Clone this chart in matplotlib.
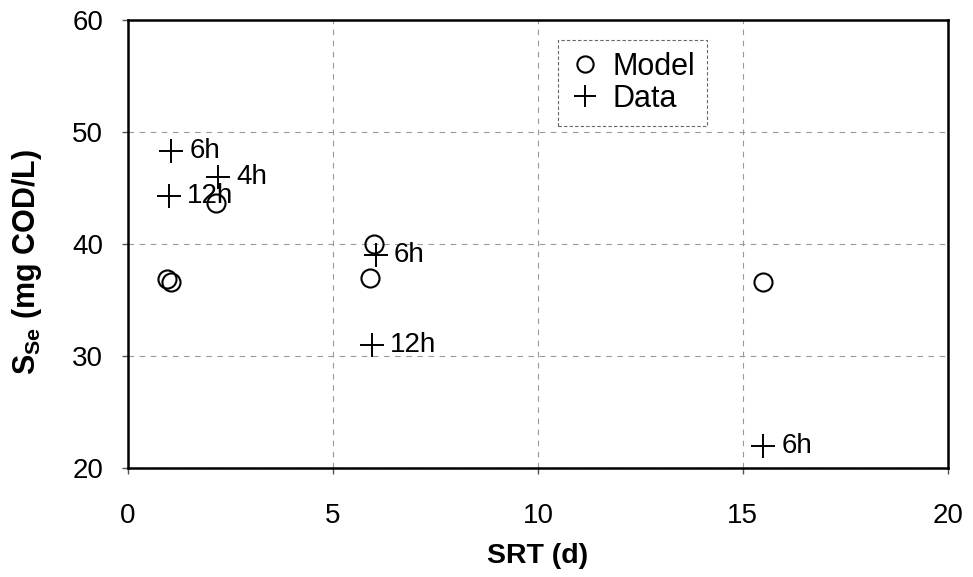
import matplotlib
matplotlib.use("Agg")
import matplotlib.pyplot as plt

plt.rcParams['font.family'] = ['Liberation Sans', 'DejaVu Sans']
plt.rcParams['mathtext.fontset'] = 'custom'
plt.rcParams['mathtext.rm'] = 'Liberation Sans:bold'
plt.rcParams['mathtext.default'] = 'rm'

# model predictions
model_srt = [0.95, 1.05, 2.15, 6.0, 5.9, 15.5]
model_sse = [36.9, 36.6, 43.7, 40.0, 37.0, 36.6]

# measured effluent soluble COD
data_srt = [1.05, 2.2, 1.0, 6.05, 5.95, 15.5]
data_sse = [48.3, 46.0, 44.3, 39.0, 31.0, 22.0]
data_hrt = ["6h", "4h", "12h", "6h", "12h", "6h"]

fig = plt.figure(figsize=(9.73, 5.77), dpi=100)
ax = fig.add_axes([0.1316, 0.189, 0.8425, 0.776])

ax.plot(model_srt, model_sse, linestyle="none", marker="o", markersize=13,
        markerfacecolor="none", markeredgecolor="black", markeredgewidth=1.5, label="Model")
ax.plot(data_srt, data_sse, linestyle="none", marker="+", markersize=17,
        color="black", markeredgewidth=1.4, label="Data")

for x, y, lab in zip(data_srt, data_sse, data_hrt):
    ax.annotate(lab, (x, y), xytext=(13, 0), textcoords="offset points",
                va="center", ha="left", fontsize=20)

ax.set_xlim(0, 20)
ax.set_ylim(20, 60)
ax.set_xticks([0, 5, 10, 15, 20])
ax.set_yticks([20, 30, 40, 50, 60])
ax.tick_params(labelsize=20, direction="out", length=4, width=1, color="#555555")
ax.tick_params(axis="x", pad=21)
ax.tick_params(axis="y", pad=14)
ax.grid(True, linestyle=(0, (5, 5)), color="#999999", linewidth=0.8)
for s in ax.spines.values():
    s.set_linewidth(1.8)

ax.set_xlabel("SRT (d)", fontsize=20.5, fontweight="bold", labelpad=10)
ax.set_ylabel(r"S$_{Se}$ (mg COD/L)", fontsize=22, fontweight="bold")
ax.yaxis.set_label_coords(-0.103, 0.46)

leg = ax.legend(loc="upper left", bbox_to_anchor=(0.524, 0.956), fontsize=22,
                handletextpad=0.4, handlelength=1.0, borderpad=0.4, borderaxespad=0,
                labelspacing=0.05, fancybox=False, framealpha=1, markerscale=0.9)
leg.get_frame().set_edgecolor("#666666")
leg.get_frame().set_linestyle((0, (3, 2)))
leg.get_frame().set_linewidth(0.8)

fig.savefig("out.png", dpi=100)
